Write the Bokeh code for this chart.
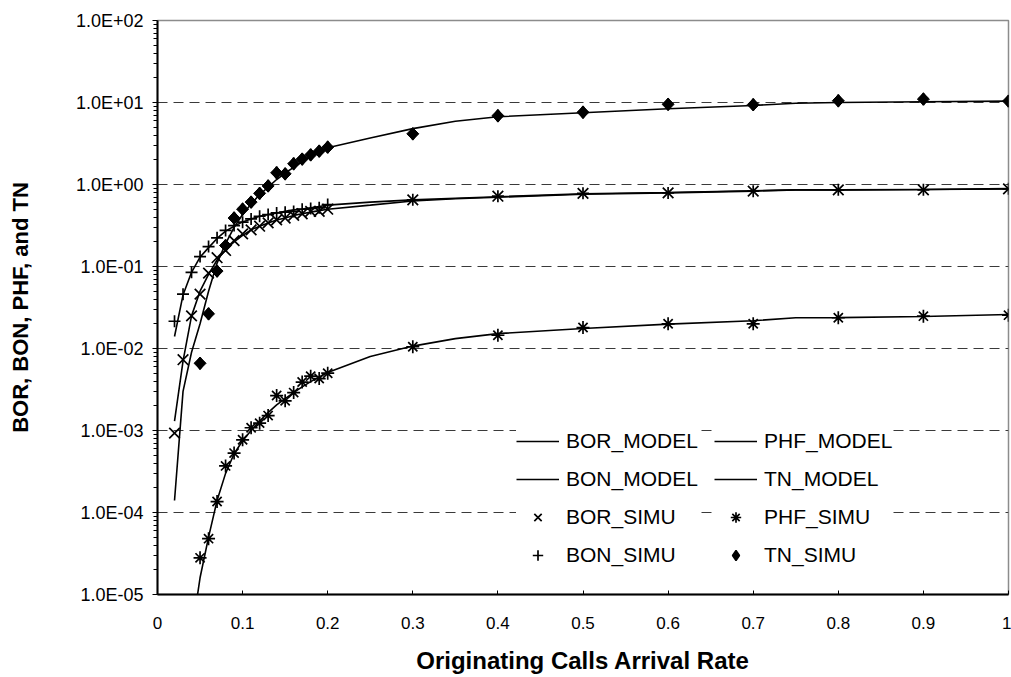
import math
from bokeh.plotting import figure
from bokeh.models import Range1d, FixedTicker, CustomJSTickFormatter, Legend, LegendItem
from bokeh.embed import file_html
from bokeh.resources import INLINE

# ---------------- data ----------------
MODEL_X = [0.02, 0.03, 0.04, 0.05, 0.06, 0.07, 0.08, 0.09, 0.10, 0.11, 0.12, 0.13,
           0.14, 0.15, 0.16, 0.17, 0.18, 0.19, 0.20, 0.25, 0.30, 0.35, 0.40, 0.50,
           0.60, 0.70, 0.75, 0.80, 0.90, 1.00]
BOR_MODEL = [1.3e-3, 7.0e-3, 0.025, 0.05, 0.08, 0.12, 0.16, 0.20, 0.24, 0.28, 0.31, 0.34,
             0.37, 0.39, 0.42, 0.44, 0.46, 0.48, 0.50, 0.56, 0.63, 0.67, 0.70, 0.76,
             0.79, 0.83, 0.86, 0.86, 0.87, 0.88]
BON_MODEL = [0.014, 0.045, 0.085, 0.13, 0.17, 0.22, 0.27, 0.31, 0.35, 0.38, 0.41, 0.43,
             0.45, 0.47, 0.49, 0.50, 0.52, 0.54, 0.56, 0.61, 0.65, 0.68, 0.71, 0.77,
             0.80, 0.84, 0.86, 0.86, 0.87, 0.89]
TN_MODEL = [1.4e-4, 3.0e-3, 9.0e-3, 0.02, 0.05, 0.11, 0.19, 0.30, 0.43, 0.58, 0.75, 0.93,
            1.15, 1.38, 1.62, 1.90, 2.20, 2.50, 2.80, 3.70, 4.80, 5.90, 6.70, 7.50,
            8.40, 9.20, 9.80, 10.0, 10.2, 10.4]
PHF_MODEL_X = [0.04, 0.05, 0.06, 0.07, 0.08, 0.09, 0.10, 0.11, 0.12, 0.13, 0.14, 0.15,
               0.16, 0.17, 0.18, 0.19, 0.20, 0.25, 0.30, 0.35, 0.40, 0.50, 0.60, 0.70,
               0.75, 0.80, 0.90, 1.00]
PHF_MODEL = [3.2e-6, 1.6e-5, 5.0e-5, 1.4e-4, 3.0e-4, 5.2e-4, 7.5e-4, 1.0e-3, 1.3e-3,
             1.65e-3, 2.05e-3, 2.45e-3, 2.9e-3, 3.4e-3, 3.95e-3, 4.5e-3, 5.1e-3, 8.0e-3,
             0.0107, 0.0132, 0.0152, 0.0175, 0.0198, 0.0218, 0.0237, 0.0238, 0.0246, 0.026]

SIM_X = [0.02, 0.03, 0.04, 0.05, 0.06, 0.07, 0.08, 0.09, 0.10, 0.11, 0.12, 0.13, 0.14,
         0.15, 0.16, 0.17, 0.18, 0.19, 0.20, 0.3, 0.4, 0.5, 0.6, 0.7, 0.8, 0.9, 1.0]
BOR_SIMU = [9.3e-4, 7.3e-3, 0.025, 0.046, 0.083, 0.128, 0.157, 0.207, 0.25, 0.28, 0.31,
            0.34, 0.37, 0.39, 0.42, 0.44, 0.47, 0.47, 0.50,
            0.65, 0.72, 0.78, 0.79, 0.83, 0.86, 0.86, 0.885]
BON_SIMU = [0.0215, 0.046, 0.085, 0.132, 0.175, 0.224, 0.275, 0.316, 0.347, 0.38, 0.41,
            0.43, 0.45, 0.46, 0.47, 0.50, 0.51, 0.52, 0.57,
            0.65, 0.72, 0.78, 0.79, 0.83, 0.86, 0.86, 0.885]
SIM_X2 = [0.05, 0.06, 0.07, 0.08, 0.09, 0.10, 0.11, 0.12, 0.13, 0.14, 0.15, 0.16, 0.17,
          0.18, 0.19, 0.20, 0.3, 0.4, 0.5, 0.6, 0.7, 0.8, 0.9, 1.0]
PHF_SIMU = [2.8e-5, 4.8e-5, 1.36e-4, 3.7e-4, 5.3e-4, 7.7e-4, 1.08e-3, 1.23e-3, 1.52e-3,
            2.67e-3, 2.3e-3, 2.9e-3, 3.9e-3, 4.6e-3, 4.3e-3, 5.0e-3,
            0.0105, 0.0145, 0.018, 0.020, 0.020, 0.0237, 0.0248, 0.0255]
TN_SIMU = [0.0066, 0.0265, 0.088, 0.18, 0.39, 0.50, 0.61, 0.78, 0.96, 1.39, 1.35, 1.79,
           2.04, 2.30, 2.55, 2.85, 4.15, 6.9, 7.6, 9.5, 9.4, 10.5, 11.0, 10.4]

X_TICKS = [0.0, 0.1, 0.2, 0.3, 0.4, 0.5, 0.6, 0.7, 0.8, 0.9, 1.0]
Y_TICKS = [1e-5, 1e-4, 1e-3, 1e-2, 1e-1, 1e0, 1e1, 1e2]
Y_MINOR = [m * t for t in Y_TICKS[:-1] for m in range(2, 10)]

FONT = "Liberation Sans"

# ---------------- figure ----------------
p = figure(width=1011, height=677, x_range=Range1d(0, 1), y_range=Range1d(1e-5, 1e2),
           y_axis_type="log", output_backend="svg", toolbar_location=None,
           min_border_left=157, min_border_right=3, min_border_top=20, min_border_bottom=83)
p.outline_line_color = "#8c8c8c"
p.outline_line_width = 1.5
p.background_fill_color = "white"
p.border_fill_color = "white"

p.xgrid.visible = False
yt = FixedTicker(ticks=Y_TICKS, minor_ticks=Y_MINOR)
p.ygrid.ticker = yt
p.ygrid.grid_line_color = "#3a3a3a"
p.ygrid.grid_line_dash = "10 6"
p.ygrid.grid_line_width = 1

# x axis
xa = p.xaxis[0]
xa.ticker = FixedTicker(ticks=X_TICKS, minor_ticks=[])
xa.formatter = CustomJSTickFormatter(code="return String(Math.round(tick*10)/10);")
xa.axis_line_color = "black"
xa.axis_line_width = 2
xa.major_tick_in = 4
xa.major_tick_out = 0
xa.major_tick_line_color = "black"
xa.minor_tick_line_color = None
xa.major_label_text_font = FONT
xa.major_label_text_font_size = "17px"
xa.major_label_text_color = "black"
xa.major_label_standoff = 22
xa.axis_label = "Originating Calls Arrival Rate"
xa.axis_label_text_font = FONT
xa.axis_label_text_font_style = "bold"
xa.axis_label_text_font_size = "24px"
xa.axis_label_text_color = "black"
xa.axis_label_standoff = 15

# y axis
ya = p.yaxis[0]
ya.ticker = yt
ya.formatter = CustomJSTickFormatter(code="""
const e = Math.round(Math.log10(tick));
const s = e < 0 ? '-' : '+';
const a = Math.abs(e);
return '1.0E' + s + (a < 10 ? '0' : '') + a;
""")
ya.axis_line_color = "black"
ya.axis_line_width = 2
ya.major_tick_in = 0
ya.major_tick_out = 5
ya.minor_tick_in = 0
ya.minor_tick_out = 4
ya.major_tick_line_color = "black"
ya.minor_tick_line_color = "black"
ya.major_label_text_font = FONT
ya.major_label_text_font_size = "18px"
ya.major_label_text_color = "black"
ya.major_label_standoff = 9
ya.axis_label = "BOR, BON, PHF, and TN"
ya.axis_label_text_font = FONT
ya.axis_label_text_font_style = "bold"
ya.axis_label_text_font_size = "22px"
ya.axis_label_text_color = "black"
ya.axis_label_standoff = 40

# ---------------- glyphs ----------------
lw = 1.6
r_bor_m = p.line(MODEL_X, BOR_MODEL, line_color="black", line_width=lw)
r_bon_m = p.line(MODEL_X, BON_MODEL, line_color="black", line_width=lw)
r_phf_m = p.line(PHF_MODEL_X, PHF_MODEL, line_color="black", line_width=lw)
r_tn_m = p.line(MODEL_X, TN_MODEL, line_color="black", line_width=lw)

r_bor_s = p.scatter(SIM_X, BOR_SIMU, marker="x", size=15, line_color="black", line_width=1.7)
r_bon_s = p.scatter(SIM_X, BON_SIMU, marker="cross", size=12, line_color="black", line_width=1.7)
r_phf_s = p.scatter(SIM_X2, PHF_SIMU, marker="asterisk", size=13, line_color="black", line_width=1.7)
# diamond glyph (used by the legend), covered by a rotated square of the same data
r_tn_d = p.scatter(SIM_X2, TN_SIMU, marker="diamond", size=12, line_color="black",
                   fill_color="black", line_width=1.5)
r_tn_s = p.scatter(SIM_X2, TN_SIMU, marker="square", angle=math.pi / 4, size=8.5,
                   line_color="black", fill_color="black", line_width=1)

def make_legend(items, loc):
    lg = Legend(items=items, location=loc, orientation="vertical")
    lg.label_text_font = FONT
    lg.label_text_font_size = "21px"
    lg.label_text_color = "black"
    lg.glyph_width = 43
    lg.glyph_height = 26
    lg.label_height = 26
    lg.label_standoff = 7
    lg.spacing = 12
    lg.padding = 8
    lg.margin = 0
    lg.border_line_color = None
    lg.background_fill_color = "white"
    lg.background_fill_alpha = 1.0
    return lg

leg1 = make_legend([LegendItem(label="BOR_MODEL", renderers=[r_bor_m]),
                    LegendItem(label="BON_MODEL", renderers=[r_bon_m]),
                    LegendItem(label="BOR_SIMU", renderers=[r_bor_s]),
                    LegendItem(label="BON_SIMU", renderers=[r_bon_s])], (359, 26))
leg2 = make_legend([LegendItem(label="PHF_MODEL", renderers=[r_phf_m]),
                    LegendItem(label="TN_MODEL", renderers=[r_tn_m]),
                    LegendItem(label="PHF_SIMU", renderers=[r_phf_s]),
                    LegendItem(label="TN_SIMU", renderers=[r_tn_d])], (557, 26))
p.add_layout(leg1)
p.add_layout(leg2)

open("out.html", "w").write(file_html(p, INLINE))
